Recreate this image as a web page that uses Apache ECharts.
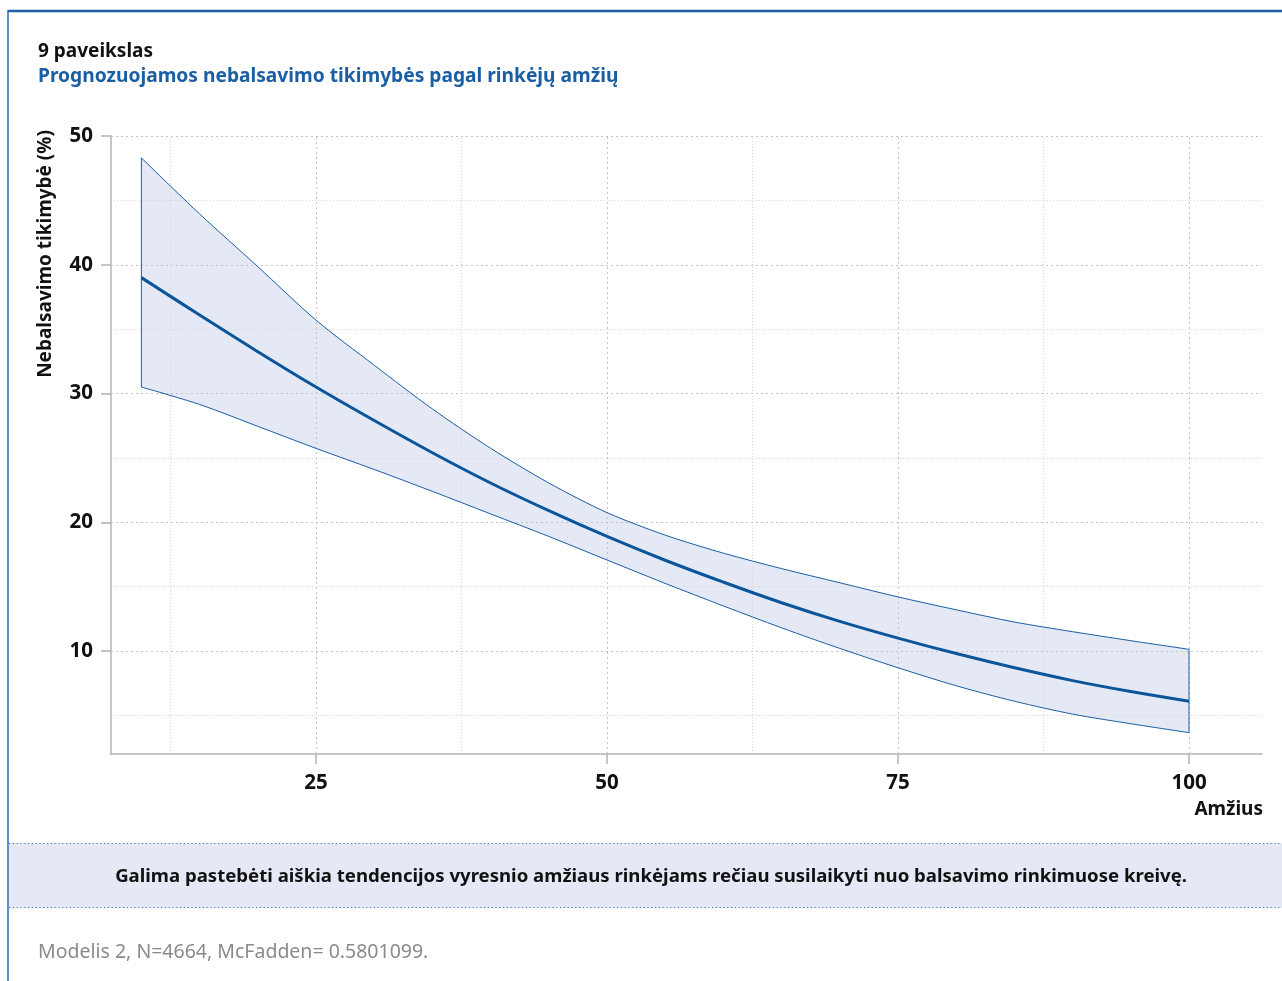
<!DOCTYPE html>
<html>
<head>
<meta charset="utf-8">
<script src="https://cdn.jsdelivr.net/npm/echarts@6/dist/echarts.min.js"></script>
<style>
html,body{margin:0;padding:0;background:#fff;}
#chart{width:1282px;height:981px;}
</style>
</head>
<body>
<div id="chart"></div>
<script>
// ---- data ----
var ages  = [10, 15, 20, 25, 30, 35, 40, 45, 50, 55, 60, 65, 70, 75, 80, 85, 90, 95, 100];
var fit   = [39.0, 36.1, 33.25, 30.5, 27.9, 25.4, 23.05, 20.9, 18.9, 17.05, 15.35, 13.75, 12.3, 11.0, 9.8, 8.7, 7.7, 6.85, 6.1];
var upper = [48.3, 43.95, 39.85, 35.7, 32.2, 28.8, 25.75, 23.05, 20.75, 19.0, 17.6, 16.4, 15.3, 14.2, 13.2, 12.25, 11.5, 10.8, 10.13];
var lower = [30.5, 29.15, 27.45, 25.74, 24.1, 22.4, 20.65, 18.9, 17.07, 15.25, 13.5, 11.8, 10.2, 8.7, 7.3, 6.1, 5.1, 4.35, 3.66];
var xTicks = [25, 50, 75, 100];
var xMinor = [12.5, 37.5, 62.5, 87.5];
var yTicks = [10, 20, 30, 40, 50];
var yMinor = [5, 15, 25, 35, 45];

var titleText = '9 paveikslas';
var subtitleText = 'Prognozuojamos nebalsavimo tikimybės pagal rinkėjų amžių';
var yName = 'Nebalsavimo tikimybė (%)';
var xName = 'Amžius';
var noteText = 'Galima pastebėti aiškia tendencijos vyresnio amžiaus rinkėjams rečiau susilaikyti nuo balsavimo rinkimuose kreivę.';
var footText = 'Modelis 2, N=4664, McFadden= 0.5801099.';

// ---- styling ----
var FONT = '"Noto Sans", "Open Sans", sans-serif';
var BLUE = '#0b559b';
var EDGE = '#1a5ea3';
var BAND = '#e5e9f6';
var AXIS = '#b3b3b3';

var chart = echarts.init(document.getElementById('chart'), null, {renderer: 'canvas'});

function zip(xs, ys) { return xs.map(function (x, i) { return [x, ys[i]]; }); }

var gridLines = [];
xTicks.forEach(function (v) { gridLines.push({xAxis: v, lineStyle: {color: '#c4c4c4', type: [2, 3], width: 1}}); });
xMinor.forEach(function (v) { gridLines.push({xAxis: v, lineStyle: {color: '#d6d6d6', type: [1, 2], width: 1}}); });
yTicks.forEach(function (v) { gridLines.push({yAxis: v, lineStyle: {color: '#c4c4c4', type: [2, 3], width: 1}}); });
yMinor.forEach(function (v) { gridLines.push({yAxis: v, lineStyle: {color: '#d6d6d6', type: [1, 2], width: 1}}); });

var option = {
  backgroundColor: '#ffffff',
  animation: false,
  grid: {left: 111, right: 20, top: 136, bottom: 227, containLabel: false},
  xAxis: {
    type: 'value', min: 7.39, max: 106.27,
    axisLine: {show: true, lineStyle: {color: AXIS, width: 1.5}},
    axisTick: {show: true, length: 10, lineStyle: {color: AXIS, width: 1.5}, customValues: xTicks},
    axisLabel: {customValues: xTicks, margin: 19, color: '#111', fontFamily: FONT, fontWeight: 'bold', fontSize: 20.5},
    splitLine: {show: false}
  },
  yAxis: {
    type: 'value', min: 2, max: 50,
    axisLine: {show: true, lineStyle: {color: AXIS, width: 1.5}},
    axisTick: {show: true, length: 10, lineStyle: {color: AXIS, width: 1.5}, customValues: yTicks},
    axisLabel: {customValues: yTicks, margin: 18, color: '#111', fontFamily: FONT, fontWeight: 'bold', fontSize: 20.5},
    splitLine: {show: false}
  },
  series: [
    {
      type: 'custom', name: 'band', z: 1, silent: true,
      data: [[ages[0], lower[0]]],
      renderItem: function (params, api) {
        var pts = [];
        for (var i = 0; i < ages.length; i++) pts.push(api.coord([ages[i], upper[i]]));
        for (var j = ages.length - 1; j >= 0; j--) pts.push(api.coord([ages[j], lower[j]]));
        return {type: 'polygon', shape: {points: pts}, style: {fill: BAND, stroke: null}};
      }
    },
    {
      type: 'line', name: 'grid', z: 2, silent: true, data: [],
      markLine: {z: 2, silent: true, symbol: 'none', label: {show: false}, animation: false, data: gridLines}
    },
    {type: 'line', name: 'upper', z: 3, data: zip(ages, upper), symbol: 'none', smooth: 0.3, lineStyle: {color: EDGE, width: 1}},
    {type: 'line', name: 'lower', z: 3, data: zip(ages, lower), symbol: 'none', smooth: 0.3, lineStyle: {color: EDGE, width: 1}},
    {type: 'line', name: 'leftEdge', z: 3, data: [[ages[0], lower[0]], [ages[0], upper[0]]], symbol: 'none', lineStyle: {color: EDGE, width: 1}},
    {type: 'line', name: 'rightEdge', z: 3, data: [[ages[ages.length - 1], lower[lower.length - 1]], [ages[ages.length - 1], upper[upper.length - 1]]], symbol: 'none', lineStyle: {color: EDGE, width: 1}},
    {type: 'line', name: 'fit', z: 4, data: zip(ages, fit), symbol: 'none', smooth: 0.4, lineStyle: {color: BLUE, width: 3}}
  ],
  graphic: [
    // frame
    {type: 'line', shape: {x1: 8, y1: 11, x2: 1282, y2: 11}, style: {stroke: '#1d5fa3', lineWidth: 2.5}},
    {type: 'line', shape: {x1: 8, y1: 10, x2: 8, y2: 981}, style: {stroke: '#2a6cb0', lineWidth: 1.5}},
    // titles
    {type: 'text', x: 38, y: 52, style: {text: titleText, fill: '#111', font: 'bold 19px ' + FONT, verticalAlign: 'middle'}},
    {type: 'text', x: 38, y: 77, style: {text: subtitleText, fill: '#1a5ea3', font: 'bold 19.2px ' + FONT, verticalAlign: 'middle'}},
    // axis names
    {type: 'text', x: 46, y: 254, rotation: Math.PI / 2, style: {text: yName, fill: '#111', font: 'bold 19px ' + FONT, align: 'center', verticalAlign: 'middle'}},
    {type: 'text', x: 1263, y: 810, style: {text: xName, fill: '#111', font: 'bold 19px ' + FONT, align: 'right', verticalAlign: 'middle'}},
    // note band
    {type: 'rect', shape: {x: 9, y: 843, width: 1273, height: 65}, style: {fill: '#e5e9f5'}},
    {type: 'line', shape: {x1: 9, y1: 843.5, x2: 1282, y2: 843.5}, style: {stroke: '#3a76b5', lineWidth: 1.2, lineDash: [1.2, 2.6]}},
    {type: 'line', shape: {x1: 9, y1: 907.5, x2: 1282, y2: 907.5}, style: {stroke: '#3a76b5', lineWidth: 1.2, lineDash: [1.2, 2.6]}},
    {type: 'text', x: 651, y: 877, style: {text: noteText, fill: '#111', font: 'bold 18.6px ' + FONT, align: 'center', verticalAlign: 'middle'}},
    // footer
    {type: 'text', x: 38, y: 952, style: {text: footText, fill: '#8a8a8a', font: '19.5px ' + FONT, align: 'left', verticalAlign: 'middle'}}
  ]
};
chart.setOption(option);
</script>
</body>
</html>
